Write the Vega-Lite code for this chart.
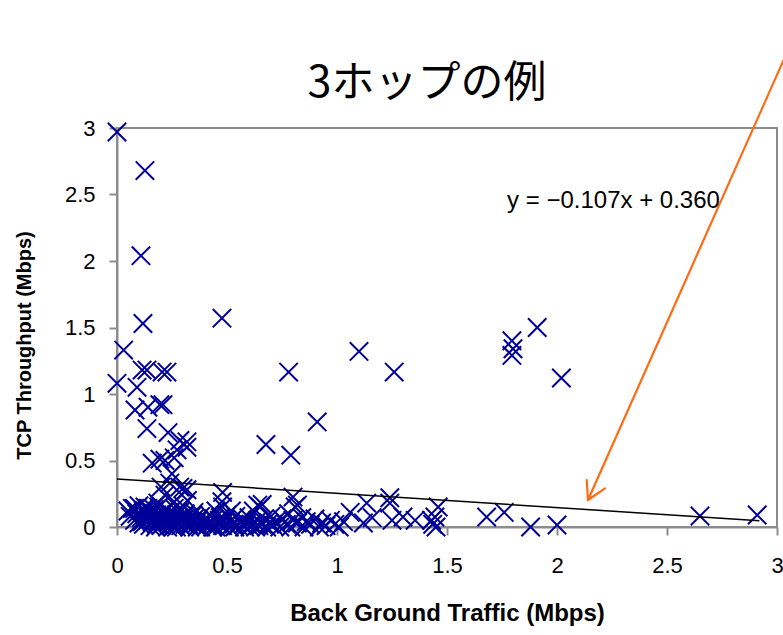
{
  "$schema": "https://vega.github.io/schema/vega-lite/v6.json",
  "autosize": {"type": "none"},
  "width": 660,
  "height": 399,
  "padding": {"left": 117, "top": 128, "right": 6, "bottom": 108},
  "background": "white",
  "config": {
    "view": {"stroke": "#8c8c8c", "strokeWidth": 2},
    "axis": {
      "grid": false,
      "domainColor": "#8c8c8c",
      "domainWidth": 2,
      "tickColor": "#8c8c8c",
      "tickWidth": 2,
      "tickSize": 8,
      "labelFlush": false,
      "labelFont": "Liberation Sans",
      "labelFontSize": 22,
      "labelColor": "black",
      "titleFont": "Liberation Sans",
      "titleFontWeight": "bold",
      "titleColor": "black"
    }
  },
  "title": {
    "text": "3ホップの例",
    "font": "Noto Sans CJK JP",
    "fontSize": 43,
    "fontWeight": "normal",
    "color": "black",
    "anchor": "middle",
    "dx": -20,
    "offset": -67
  },
  "datasets": {
    "pts": [
      {"bg": 0, "tp": 2.97}, {"bg": 0.127, "tp": 2.68}, {"bg": 0.109, "tp": 2.04}, {"bg": 0.118, "tp": 1.53},
      {"bg": 0.477, "tp": 1.57}, {"bg": 0.03, "tp": 1.33}, {"bg": 0, "tp": 1.08}, {"bg": 0.114, "tp": 1.18},
      {"bg": 0.136, "tp": 1.18}, {"bg": 0.205, "tp": 1.165}, {"bg": 0.227, "tp": 1.165}, {"bg": 0.091, "tp": 1.05},
      {"bg": 0.082, "tp": 0.88}, {"bg": 0.141, "tp": 0.9}, {"bg": 0.195, "tp": 0.92}, {"bg": 0.209, "tp": 0.92},
      {"bg": 0.136, "tp": 0.74}, {"bg": 0.232, "tp": 0.71}, {"bg": 0.286, "tp": 0.65}, {"bg": 0.318, "tp": 0.64},
      {"bg": 0.677, "tp": 0.62}, {"bg": 0.79, "tp": 0.54}, {"bg": 0.91, "tp": 0.79}, {"bg": 0.78, "tp": 1.165},
      {"bg": 1.1, "tp": 1.32}, {"bg": 1.26, "tp": 1.165}, {"bg": 1.91, "tp": 1.5}, {"bg": 1.795, "tp": 1.4},
      {"bg": 1.8, "tp": 1.34}, {"bg": 1.795, "tp": 1.29}, {"bg": 2.02, "tp": 1.12},
      {"bg": 0.16, "tp": 0.48}, {"bg": 0.195, "tp": 0.51}, {"bg": 0.218, "tp": 0.5}, {"bg": 0.26, "tp": 0.52},
      {"bg": 0.273, "tp": 0.58}, {"bg": 0.318, "tp": 0.6}, {"bg": 0.25, "tp": 0.4}, {"bg": 0.285, "tp": 0.3},
      {"bg": 0.318, "tp": 0.28}, {"bg": 0.218, "tp": 0.24}, {"bg": 0.48, "tp": 0.26}, {"bg": 0.477, "tp": 0.19},
      {"bg": 0.08, "tp": 0.14}, {"bg": 0.127, "tp": 0.15}, {"bg": 0.186, "tp": 0.18}, {"bg": 0.2, "tp": 0.3},
      {"bg": 0.24, "tp": 0.33}, {"bg": 0.26, "tp": 0.19}, {"bg": 0.3, "tp": 0.16}, {"bg": 0.32, "tp": 0.2},
      {"bg": 0.52, "tp": 0.12}, {"bg": 0.66, "tp": 0.17}, {"bg": 0.64, "tp": 0.165}, {"bg": 0.8, "tp": 0.225},
      {"bg": 0.82, "tp": 0.165}, {"bg": 0.3, "tp": 0.29},
      {"bg": 0.05, "tp": 0.12}, {"bg": 0.06, "tp": 0.08}, {"bg": 0.07, "tp": 0.14}, {"bg": 0.08, "tp": 0.05},
      {"bg": 0.09, "tp": 0.1}, {"bg": 0.1, "tp": 0.16}, {"bg": 0.1, "tp": 0.03}, {"bg": 0.11, "tp": 0.07},
      {"bg": 0.12, "tp": 0.12}, {"bg": 0.12, "tp": 0.02}, {"bg": 0.13, "tp": 0.09}, {"bg": 0.14, "tp": 0.05},
      {"bg": 0.14, "tp": 0.14}, {"bg": 0.15, "tp": 0.01}, {"bg": 0.15, "tp": 0.08}, {"bg": 0.16, "tp": 0.11},
      {"bg": 0.16, "tp": 0.04}, {"bg": 0.17, "tp": 0.06}, {"bg": 0.17, "tp": 0.13}, {"bg": 0.18, "tp": 0.02},
      {"bg": 0.18, "tp": 0.09}, {"bg": 0.19, "tp": 0.05}, {"bg": 0.19, "tp": 0.15}, {"bg": 0.2, "tp": 0.07},
      {"bg": 0.2, "tp": 0.01}, {"bg": 0.21, "tp": 0.1}, {"bg": 0.21, "tp": 0.03}, {"bg": 0.22, "tp": 0.06},
      {"bg": 0.22, "tp": 0.13}, {"bg": 0.23, "tp": 0.0}, {"bg": 0.23, "tp": 0.08}, {"bg": 0.24, "tp": 0.04},
      {"bg": 0.24, "tp": 0.11}, {"bg": 0.25, "tp": 0.02}, {"bg": 0.25, "tp": 0.07}, {"bg": 0.26, "tp": 0.05},
      {"bg": 0.26, "tp": 0.14}, {"bg": 0.27, "tp": 0.0}, {"bg": 0.27, "tp": 0.09}, {"bg": 0.28, "tp": 0.03},
      {"bg": 0.28, "tp": 0.06}, {"bg": 0.29, "tp": 0.12}, {"bg": 0.29, "tp": 0.01}, {"bg": 0.3, "tp": 0.05},
      {"bg": 0.3, "tp": 0.08}, {"bg": 0.31, "tp": 0.02}, {"bg": 0.31, "tp": 0.1}, {"bg": 0.32, "tp": 0.04},
      {"bg": 0.33, "tp": 0.0}, {"bg": 0.33, "tp": 0.07}, {"bg": 0.34, "tp": 0.03}, {"bg": 0.35, "tp": 0.06},
      {"bg": 0.35, "tp": 0.11}, {"bg": 0.36, "tp": 0.02}, {"bg": 0.37, "tp": 0.05}, {"bg": 0.38, "tp": 0.0},
      {"bg": 0.38, "tp": 0.08}, {"bg": 0.39, "tp": 0.03}, {"bg": 0.4, "tp": 0.06}, {"bg": 0.41, "tp": 0.01},
      {"bg": 0.42, "tp": 0.04}, {"bg": 0.42, "tp": 0.09}, {"bg": 0.43, "tp": 0.02}, {"bg": 0.44, "tp": 0.06},
      {"bg": 0.45, "tp": 0.0}, {"bg": 0.45, "tp": 0.12}, {"bg": 0.46, "tp": 0.03}, {"bg": 0.47, "tp": 0.07},
      {"bg": 0.48, "tp": 0.01}, {"bg": 0.48, "tp": 0.15}, {"bg": 0.49, "tp": 0.05}, {"bg": 0.5, "tp": 0.02},
      {"bg": 0.5, "tp": 0.09}, {"bg": 0.51, "tp": 0.0}, {"bg": 0.52, "tp": 0.05}, {"bg": 0.53, "tp": 0.02},
      {"bg": 0.54, "tp": 0.08}, {"bg": 0.55, "tp": 0.01}, {"bg": 0.56, "tp": 0.04}, {"bg": 0.57, "tp": 0.06},
      {"bg": 0.58, "tp": 0.0}, {"bg": 0.59, "tp": 0.03}, {"bg": 0.6, "tp": 0.07}, {"bg": 0.61, "tp": 0.02},
      {"bg": 0.62, "tp": 0.12}, {"bg": 0.63, "tp": 0.0}, {"bg": 0.64, "tp": 0.05}, {"bg": 0.65, "tp": 0.15},
      {"bg": 0.66, "tp": 0.02}, {"bg": 0.67, "tp": 0.06}, {"bg": 0.68, "tp": 0.0}, {"bg": 0.69, "tp": 0.03},
      {"bg": 0.7, "tp": 0.08}, {"bg": 0.71, "tp": 0.01}, {"bg": 0.72, "tp": 0.04}, {"bg": 0.74, "tp": 0.0},
      {"bg": 0.75, "tp": 0.06}, {"bg": 0.77, "tp": 0.02}, {"bg": 0.78, "tp": 0.1}, {"bg": 0.79, "tp": 0.0},
      {"bg": 0.8, "tp": 0.05}, {"bg": 0.81, "tp": 0.15}, {"bg": 0.82, "tp": 0.03}, {"bg": 0.84, "tp": 0.07},
      {"bg": 0.85, "tp": 0.0}, {"bg": 0.86, "tp": 0.04}, {"bg": 0.88, "tp": 0.02}, {"bg": 0.9, "tp": 0.06},
      {"bg": 0.92, "tp": 0.0}, {"bg": 0.93, "tp": 0.03}, {"bg": 0.95, "tp": 0.01}, {"bg": 0.97, "tp": 0.05},
      {"bg": 0.99, "tp": 0.02}, {"bg": 1.01, "tp": 0.0}, {"bg": 1.03, "tp": 0.04},
      {"bg": 0.115, "tp": 0.04}, {"bg": 0.135, "tp": 0.11}, {"bg": 0.175, "tp": 0.0}, {"bg": 0.215, "tp": 0.05},
      {"bg": 0.235, "tp": 0.1}, {"bg": 0.255, "tp": 0.0}, {"bg": 0.275, "tp": 0.04}, {"bg": 0.295, "tp": 0.07},
      {"bg": 0.325, "tp": 0.02}, {"bg": 0.345, "tp": 0.09}, {"bg": 0.365, "tp": 0.0}, {"bg": 0.395, "tp": 0.05},
      {"bg": 0.415, "tp": 0.02}, {"bg": 0.435, "tp": 0.0}, {"bg": 0.465, "tp": 0.05}, {"bg": 0.535, "tp": 0.0},
      {"bg": 0.575, "tp": 0.02}, {"bg": 0.605, "tp": 0.0}, {"bg": 0.645, "tp": 0.01}, {"bg": 0.705, "tp": 0.02},
      {"bg": 1.06, "tp": 0.11}, {"bg": 1.12, "tp": 0.03}, {"bg": 1.135, "tp": 0.18}, {"bg": 1.16, "tp": 0.07},
      {"bg": 1.24, "tp": 0.18}, {"bg": 1.24, "tp": 0.22}, {"bg": 1.25, "tp": 0.05}, {"bg": 1.3, "tp": 0.075},
      {"bg": 1.355, "tp": 0.05}, {"bg": 1.43, "tp": 0.05}, {"bg": 1.435, "tp": 0.02}, {"bg": 1.445, "tp": 0.075},
      {"bg": 1.46, "tp": 0.15}, {"bg": 1.45, "tp": 0.0}, {"bg": 1.68, "tp": 0.075}, {"bg": 1.76, "tp": 0.11},
      {"bg": 1.88, "tp": 0.0}, {"bg": 2.0, "tp": 0.015}, {"bg": 2.65, "tp": 0.083}, {"bg": 2.91, "tp": 0.09}
    ],
    "trend": [{"bg": 0, "tp": 0.36}, {"bg": 2.92, "tp": 0.0476}],
    "arrow": [
      {"x": 3.07, "y": 3.66, "x2": 2.141, "y2": 0.203},
      {"x": 2.141, "y": 0.203, "x2": 2.135, "y2": 0.353},
      {"x": 2.141, "y": 0.203, "x2": 2.218, "y2": 0.291}
    ],
    "eq": [{"x": 1.773, "y": 2.45, "label": "y = −0.107x + 0.360"}]
  },
  "layer": [
    {
      "data": {"name": "pts"},
      "mark": {
        "type": "point",
        "shape": "M-1,-1L1,1M-1,1L1,-1",
        "filled": false,
        "size": 340,
        "strokeWidth": 2,
        "color": "#000099",
        "opacity": 1
      },
      "encoding": {
        "x": {
          "field": "bg", "type": "quantitative",
          "scale": {"domain": [0, 3], "nice": false, "zero": false},
          "axis": {
            "values": [0, 0.5, 1, 1.5, 2, 2.5, 3],
            "format": "~g",
            "labelPadding": 20,
            "title": "Back Ground Traffic (Mbps)",
            "titleFontSize": 24,
            "titlePadding": 25
          }
        },
        "y": {
          "field": "tp", "type": "quantitative",
          "scale": {"domain": [0, 3], "nice": false, "zero": false},
          "axis": {
            "values": [0, 0.5, 1, 1.5, 2, 2.5, 3],
            "format": "~g",
            "labelPadding": 14,
            "title": "TCP Throughput (Mbps)",
            "titleFontSize": 20,
            "titlePadding": 30,
            "titleY": 217
          }
        }
      }
    },
    {
      "data": {"name": "trend"},
      "mark": {"type": "line", "color": "black", "strokeWidth": 1.5},
      "encoding": {
        "x": {"field": "bg", "type": "quantitative"},
        "y": {"field": "tp", "type": "quantitative"}
      }
    },
    {
      "data": {"name": "arrow"},
      "mark": {"type": "rule", "color": "#ff6a13", "strokeWidth": 2.2, "strokeCap": "round"},
      "encoding": {
        "x": {"field": "x", "type": "quantitative"},
        "y": {"field": "y", "type": "quantitative"},
        "x2": {"field": "x2"},
        "y2": {"field": "y2"}
      }
    },
    {
      "data": {"name": "eq"},
      "mark": {"type": "text", "align": "left", "baseline": "middle", "font": "Liberation Sans", "fontSize": 24, "color": "black"},
      "encoding": {
        "x": {"field": "x", "type": "quantitative"},
        "y": {"field": "y", "type": "quantitative"},
        "text": {"field": "label"}
      }
    }
  ]
}
